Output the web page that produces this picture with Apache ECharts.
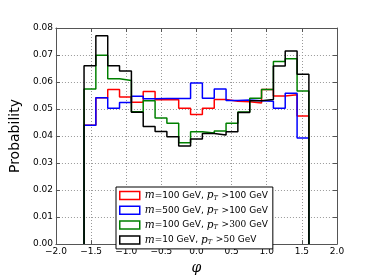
<!DOCTYPE html>
<html><head><meta charset="utf-8">
<script src="https://cdn.jsdelivr.net/npm/echarts@6/dist/echarts.min.js"></script>
<style>html,body{margin:0;padding:0;background:#fff}#c{width:374px;height:280px}</style>
</head><body><div id="c"></div>
<script>
// bin edges (phi)
var edges = [-1.600,-1.432,-1.263,-1.095,-0.926,-0.758,-0.589,-0.421,-0.253,-0.084,0.084,0.253,0.421,0.589,0.758,0.926,1.095,1.263,1.432,1.600];
// per-bin probabilities
var redVals   = [0.0440,0.0542,0.0572,0.0545,0.0525,0.0565,0.0534,0.0534,0.0503,0.0480,0.0503,0.0535,0.0529,0.0527,0.0522,0.0572,0.0548,0.0553,0.0474];
var blueVals  = [0.0440,0.0542,0.0503,0.0524,0.0547,0.0538,0.0539,0.0539,0.0539,0.0596,0.0540,0.0574,0.0532,0.0533,0.0531,0.0529,0.0503,0.0558,0.0393];
var greenVals = [0.0574,0.0699,0.0612,0.0606,0.0490,0.0531,0.0467,0.0447,0.0375,0.0416,0.0411,0.0419,0.0447,0.0489,0.0540,0.0572,0.0676,0.0686,0.0567];
var blackVals = [0.0660,0.0771,0.0660,0.0641,0.0488,0.0435,0.0417,0.0397,0.0363,0.0389,0.0409,0.0404,0.0416,0.0487,0.0531,0.0535,0.0659,0.0715,0.0629];
var seriesNames = ['red','blue','green','black'];
var seriesColors = ['#ff0000','#0000ff','#008000','#000000'];
var legendLabels = {
  red:   '{i|m}=100 GeV, {i|p}{s|T} >100 GeV',
  blue:  '{i|m}=500 GeV, {i|p}{s|T} >100 GeV',
  green: '{i|m}=100 GeV, {i|p}{s|T} {r|>300} GeV',
  black: '{i|m}=10 GeV, {i|p}{s|T} {r|>50} GeV'
};
var xTicks = {min:-2, max:2, interval:0.5};
var yTicks = {min:0, max:0.08, interval:0.01};

function stepData(vals){
  var d = [[edges[0],0]];
  for (var i=0;i<vals.length;i++) d.push([edges[i],vals[i]]);
  d.push([edges[edges.length-1],vals[vals.length-1]]);
  d.push([edges[edges.length-1],0]);
  return d;
}
var allVals = [redVals,blueVals,greenVals,blackVals];
var chart = echarts.init(document.getElementById('c'));
var frame = '#555';
var series = seriesNames.map(function(n,i){
  return {name:n,type:'line',step:'end',data:stepData(allVals[i]),showSymbol:false,symbol:'none',
    lineStyle:{color:seriesColors[i],width:1.5},itemStyle:{color:seriesColors[i]},z:2+i,animation:false,silent:true};
});
chart.setOption({
  animation:false,
  grid:{left:47,right:37,top:28,bottom:28.5,containLabel:false},
  legend:{
    orient:'vertical',left:116,top:187,
    backgroundColor:'#fff',borderColor:'#000',borderWidth:1,
    padding:[3,5,3,3],itemGap:3.3,itemWidth:20,itemHeight:8,
    data:seriesNames.map(function(n,i){return {name:n,icon:'rect',itemStyle:{color:'rgba(0,0,0,0)',borderColor:seriesColors[i],borderWidth:1.5}};}),
    formatter:function(n){return legendLabels[n];},
    textStyle:{fontFamily:'DejaVu Sans',fontSize:9,color:'#000',lineHeight:11,
      rich:{
        i:{fontFamily:'DejaVu Serif',fontStyle:'italic',fontSize:10.5,color:'#000'},
        s:{fontFamily:'DejaVu Serif',fontStyle:'italic',fontSize:6.5,color:'#000',padding:[5,1,0,0]},
        r:{fontFamily:'DejaVu Serif',fontSize:9,color:'#000'}
      }}
  },
  xAxis:[{
    type:'value',min:xTicks.min,max:xTicks.max,interval:xTicks.interval,
    name:'φ',nameLocation:'middle',nameGap:15,
    nameTextStyle:{fontFamily:'DejaVu Serif',fontStyle:'italic',fontSize:14,color:'#000'},
    axisLine:{show:true,onZero:false,lineStyle:{color:frame,width:1}},
    axisTick:{show:true,inside:true,length:4,lineStyle:{color:frame}},
    axisLabel:{fontFamily:'DejaVu Sans',fontSize:9,color:'#000',margin:3,
      formatter:function(v){return v.toFixed(1).replace('-','\u2212');}},
    splitLine:{show:true,lineStyle:{color:'#999',type:[1,2],width:1}}
  },{
    type:'value',position:'top',min:xTicks.min,max:xTicks.max,interval:xTicks.interval,
    axisLine:{show:true,onZero:false,lineStyle:{color:frame,width:1}},
    axisTick:{show:true,inside:true,length:4,lineStyle:{color:frame}},
    axisLabel:{show:false},splitLine:{show:false}
  }],
  yAxis:[{
    type:'value',min:yTicks.min,max:yTicks.max,interval:yTicks.interval,
    name:'Probability',nameLocation:'middle',nameGap:22,
    nameTextStyle:{fontFamily:'DejaVu Sans',fontSize:14,color:'#000'},
    axisLine:{show:true,onZero:false,lineStyle:{color:frame,width:1}},
    axisTick:{show:true,inside:true,length:4,lineStyle:{color:frame}},
    axisLabel:{fontFamily:'DejaVu Sans',fontSize:9,color:'#000',margin:3,
      formatter:function(v){return v.toFixed(2);}},
    splitLine:{show:true,lineStyle:{color:'#999',type:[1,2],width:1}}
  },{
    type:'value',position:'right',min:yTicks.min,max:yTicks.max,interval:yTicks.interval,
    axisLine:{show:true,onZero:false,lineStyle:{color:frame,width:1}},
    axisTick:{show:true,inside:true,length:4,lineStyle:{color:frame}},
    axisLabel:{show:false},splitLine:{show:false}
  }],
  series:series
});
</script></body></html>
